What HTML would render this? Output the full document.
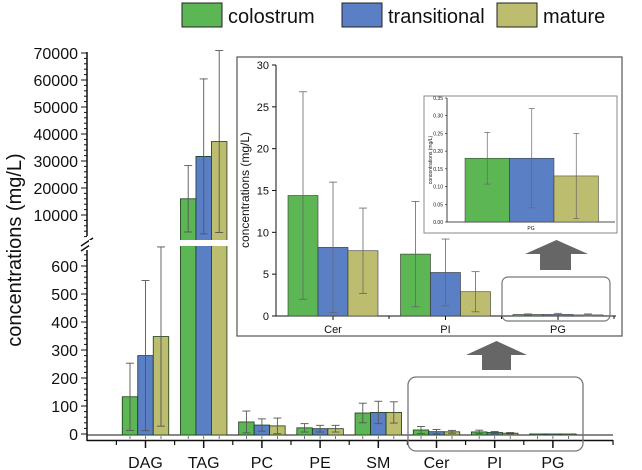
<!DOCTYPE html>
<html><head><meta charset="utf-8"><style>
body{margin:0;background:#fff;}
svg{display:block;font-family:"Liberation Sans",Arial,sans-serif;}
</style></head><body>
<svg id="c" width="642" height="470" viewBox="0 0 642 470"></svg>
<script>
const categories=["DAG","TAG","PC","PE","SM","Cer","PI","PG"];
const series=["colostrum","transitional","mature"];
const colors=["#5cb654","#5b7fc4","#bdbd6f"];
const colostrum=[133,16000,43,22,75,14.4,7.4,0.18];
const transitional=[280,31700,32,19,77,8.2,5.2,0.18];
const mature=[348,37200,29,19,77,7.8,2.9,0.13];
const colostrumSd=[120,12300,39,15,35,12.4,6.3,0.073];
const transitionalSd=[268,28700,22,12,40,7.8,4.0,0.14];
const matureSd=[320,33700,28,12,38,5.1,2.4,0.12];
const mainTicksLow=[0,100,200,300,400,500,600];
const mainTicksHigh=[10000,20000,30000,40000,50000,60000,70000];
const insetTicks=[0,5,10,15,20,25,30];
const pgTicks=[0,0.05,0.10,0.15,0.20,0.25,0.30,0.35];
const vals=[colostrum,transitional,mature], sds=[colostrumSd,transitionalSd,matureSd];
const svg=document.getElementById('c'), NS="http://www.w3.org/2000/svg";
function mk(t,a,p,name,txt){const e=document.createElementNS(NS,t);for(const k in a)e.setAttribute(k,a[k]);


if(txt!==undefined)e.textContent=txt;(p||svg).appendChild(e);return e;}
// legend
const lx=[182,342,497];
series.forEach((s,i)=>{mk('rect',{x:lx[i],y:3,width:40,height:24,fill:colors[i],stroke:'#222','stroke-width':1},svg,'legend-swatch-'+s);
mk('text',{x:lx[i]+46,y:23,'font-size':20,fill:'#111'},svg,'legend-label-'+s,s);});
// main axes
const X0=87,XE=613;
const yLow=v=>434-v*0.28, yHigh=v=>242-v*0.0027;
const yMain=v=>v>700?yHigh(v):yLow(v);
const xCat=i=>145.5+i*58.2;
mk('text',{x:0,y:0,'font-size':20,fill:'#111','text-anchor':'middle',transform:'translate(21,250) rotate(-90)'},svg,'y-axis-title','concentrations (mg/L)');
mk('line',{x1:X0,y1:441,x2:X0,y2:250,stroke:'#111','stroke-width':1.5},svg,'y-axis-lower');
mk('line',{x1:X0,y1:236,x2:X0,y2:52,stroke:'#111','stroke-width':1.5},svg,'y-axis-upper');
mk('line',{x1:X0-6,y1:246,x2:X0+6,y2:238,stroke:'#111','stroke-width':1.5},svg,'axis-break-1');
mk('line',{x1:X0-6,y1:251,x2:X0+6,y2:243,stroke:'#111','stroke-width':1.5},svg,'axis-break-2');
for(let v=0;v<=640;v+=20){const y=yLow(v);mk('line',{x1:X0-(v%100?3:6),y1:y,x2:X0,y2:y,stroke:'#111'},svg,'y-tick');}
for(let v=2000;v<=70000;v+=2000){const y=yHigh(v);mk('line',{x1:X0-(v%10000?3:6),y1:y,x2:X0,y2:y,stroke:'#111'},svg,'y-tick');}
mainTicksLow.forEach(v=>mk('text',{x:X0-9,y:yLow(v)+6,'font-size':16,'text-anchor':'end',fill:'#111'},svg,'y-tick-label',v));
mainTicksHigh.forEach(v=>mk('text',{x:X0-9,y:yHigh(v)+6,'font-size':16,'text-anchor':'end',fill:'#111'},svg,'y-tick-label',v));
mk('line',{x1:X0,y1:435,x2:XE,y2:435,stroke:'#111','stroke-width':1},svg,'zero-line');
mk('line',{x1:X0,y1:440.5,x2:XE,y2:440.5,stroke:'#111','stroke-width':1.5},svg,'x-axis');
categories.forEach((c,i)=>{const x=xCat(i);
mk('line',{x1:x,y1:440,x2:x,y2:448,stroke:'#111','stroke-width':1.5},svg,'x-tick');
mk('line',{x1:x-29.1,y1:440,x2:x-29.1,y2:445,stroke:'#111','stroke-width':1.2},svg,'x-minor-tick');
mk('text',{x:x,y:468,'font-size':16,'text-anchor':'middle',fill:'#111'},svg,'x-label-'+c,c);});
mk('line',{x1:XE,y1:440,x2:XE,y2:445,stroke:'#111','stroke-width':1.2},svg,'x-minor-tick');
// main bars
const BW=15.5;
categories.forEach((c,i)=>{series.forEach((s,j)=>{const v=vals[j][i],sd=sds[j][i];const x=xCat(i)+(j-1.5)*BW;
mk('rect',{x:x,y:yMain(v),width:BW,height:435-yMain(v),fill:colors[j],stroke:'#1a3a1a','stroke-width':0.8},svg,'bar-'+c+'-'+s);
const yt=yMain(v+sd),yb=yMain(Math.max(v-sd,0)),cx=x+BW/2;
mk('line',{x1:cx,y1:yt,x2:cx,y2:yb,stroke:'#555','stroke-width':0.9},svg,'error-bar');
mk('line',{x1:cx-4,y1:yt,x2:cx+4,y2:yt,stroke:'#555','stroke-width':0.9},svg,'error-cap');
mk('line',{x1:cx-4,y1:yb,x2:cx+4,y2:yb,stroke:'#555','stroke-width':0.9},svg,'error-cap');
mk('line',{x1:cx,y1:436,x2:cx,y2:439,stroke:'#555','stroke-width':0.8},svg,'sig-mark');});});
mk('rect',{x:X0+2,y:240,width:520,height:6,fill:'#fff'},svg,'break-gap');
mk('rect',{x:408,y:377,width:175,height:74,rx:8,fill:'none',stroke:'#777','stroke-width':1.3},svg,'zoom-region-box');
mk('polygon',{points:'466,355 496.5,341 527,355 511,355 511,370 482,370 482,355',fill:'#666'},svg,'zoom-arrow');
// inset 1
const g1=mk('g',{},svg,'inset-chart');
mk('rect',{x:237,y:57,width:385,height:279,fill:'#fff',stroke:'#555','stroke-width':1.2},g1,'inset-frame');
const iy=v=>316-v*(251/30), ix=i=>333+(i-5)*112.5, IBW=30;
mk('line',{x1:276,y1:65,x2:276,y2:316,stroke:'#111'},g1,'inset-y-axis');
mk('line',{x1:276,y1:316,x2:616,y2:316,stroke:'#111'},g1,'inset-x-axis');
insetTicks.forEach(v=>{mk('line',{x1:272,y1:iy(v),x2:276,y2:iy(v),stroke:'#111'},g1,'inset-y-tick');
mk('text',{x:269,y:iy(v)+4,'font-size':11,'text-anchor':'end',fill:'#111'},g1,'inset-y-label',v);});
mk('text',{x:0,y:0,'font-size':12,'text-anchor':'middle',fill:'#111',transform:'translate(249,190) rotate(-90)'},g1,'inset-y-title','concentrations (mg/L)');
[5,6,7].forEach(i=>{const c=categories[i];
mk('line',{x1:ix(i),y1:316,x2:ix(i),y2:320,stroke:'#111'},g1,'inset-x-tick');
mk('line',{x1:ix(i)+56,y1:316,x2:ix(i)+56,y2:319,stroke:'#111'},g1,'inset-x-tick');
mk('text',{x:ix(i),y:333,'font-size':11,'text-anchor':'middle',fill:'#111'},g1,'inset-x-label-'+c,c);
series.forEach((s,j)=>{const v=vals[j][i],sd=sds[j][i],x=ix(i)+(j-1.5)*IBW;
mk('rect',{x:x,y:iy(v),width:IBW,height:316-iy(v),fill:colors[j],stroke:'#333','stroke-width':0.6},g1,'inset-bar-'+c+'-'+s);
const cx=x+IBW/2,yt=iy(v+sd),yb=iy(Math.max(v-sd,0));
mk('line',{x1:cx,y1:yt,x2:cx,y2:yb,stroke:'#666','stroke-width':0.8},g1,'inset-error-bar');
mk('line',{x1:cx-4,y1:yt,x2:cx+4,y2:yt,stroke:'#666','stroke-width':0.8},g1,'inset-error-cap');
mk('line',{x1:cx-4,y1:yb,x2:cx+4,y2:yb,stroke:'#666','stroke-width':0.8},g1,'inset-error-cap');});});
mk('rect',{x:502,y:277,width:108,height:44,rx:6,fill:'none',stroke:'#777','stroke-width':1.2},g1,'inset-zoom-box');
mk('polygon',{points:'525,254 556.5,240 588,254 571,254 571,270 540,270 540,254',fill:'#666'},g1,'inset-arrow');
// inset 2
const g2=mk('g',{},svg,'pg-inset-chart');
mk('rect',{x:424,y:96,width:193,height:137,fill:'#fff',stroke:'#888','stroke-width':1},g2,'pg-inset-frame');
const py=v=>222-v*(124/0.35), PBW=44.5;
mk('line',{x1:447,y1:98,x2:447,y2:222,stroke:'#111','stroke-width':0.8},g2,'pg-y-axis');
mk('line',{x1:447,y1:222,x2:615,y2:222,stroke:'#111','stroke-width':0.8},g2,'pg-x-axis');
pgTicks.forEach(v=>{mk('line',{x1:445,y1:py(v),x2:447,y2:py(v),stroke:'#111','stroke-width':0.6},g2,'pg-y-tick');
mk('text',{x:443,y:py(v)+2,'font-size':5,'text-anchor':'end',fill:'#111'},g2,'pg-y-label',v.toFixed(2));});
mk('text',{x:0,y:0,'font-size':5,'text-anchor':'middle',fill:'#111',transform:'translate(432,160) rotate(-90)'},g2,'pg-y-title','concentrations (mg/L)');
mk('text',{x:531,y:230,'font-size':5,'text-anchor':'middle',fill:'#111'},g2,'pg-x-label','PG');
series.forEach((s,j)=>{const v=vals[j][7],sd=sds[j][7],x=465+j*PBW;
mk('rect',{x:x,y:py(v),width:PBW,height:222-py(v),fill:colors[j],stroke:'#333','stroke-width':0.5},g2,'pg-bar-'+s);
const cx=x+PBW/2,yt=py(v+sd),yb=py(Math.max(v-sd,0));
mk('line',{x1:cx,y1:yt,x2:cx,y2:yb,stroke:'#666','stroke-width':0.7},g2,'pg-error-bar');
mk('line',{x1:cx-3,y1:yt,x2:cx+3,y2:yt,stroke:'#666','stroke-width':0.7},g2,'pg-error-cap');
mk('line',{x1:cx-3,y1:yb,x2:cx+3,y2:yb,stroke:'#666','stroke-width':0.7},g2,'pg-error-cap');});
</script>
</body></html>
